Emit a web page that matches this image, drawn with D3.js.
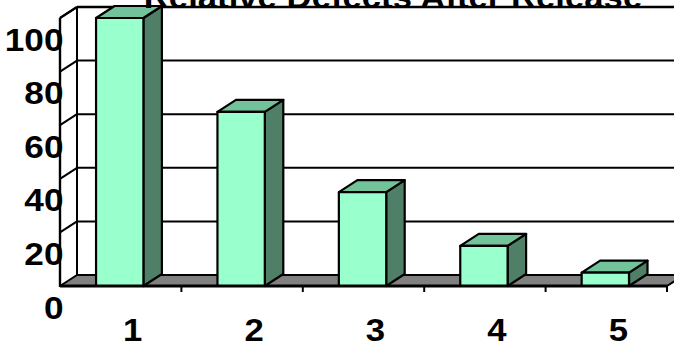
<!DOCTYPE html>
<html><head><meta charset="utf-8">
<script src="https://cdn.jsdelivr.net/npm/d3@7"></script>
<style>html,body{margin:0;padding:0;background:#fff;overflow:hidden}</style>
</head><body>
<svg id="chart" width="674" height="348"></svg>
<script>
const chartTitle = "Relative Defects After Release";
const categories = ["1", "2", "3", "4", "5"];
const values = [100, 65, 35, 15, 5];
const yTicks = [0, 20, 40, 60, 80, 100];

const svg = d3.select("#chart");
const font = "'Liberation Sans', Arial, Helvetica, sans-serif";
const dx = 17, dy = -11;      // wall / floor depth
const bdx = 18.5, bdy = -12;  // bar depth
const x = d3.scaleBand().domain(categories).range([60, 667]).padding(0);
const y = d3.scaleLinear().domain([0, 100]).range([286, 18]);
const bw = x.bandwidth();
const x0 = x.range()[0], x1 = x.range()[1];
const yTop = y(100), yBot = y(0);
const line = d3.line();

const colFront = "#99FFCC", colTop = "#72C29A", colSide = "#4F7F67", colFloor = "#808080";

// back wall
svg.append("rect").attr("x", x0 + dx).attr("y", yTop + dy)
  .attr("width", x1 - x0 + 40).attr("height", yBot - yTop).attr("fill", "#fff");
// side wall
svg.append("path").attr("d", line([[x0, yTop], [x0 + dx, yTop + dy], [x0 + dx, yBot + dy], [x0, yBot]]) + "Z")
  .attr("fill", "#fff");

// gridlines on back wall and side wall
yTicks.filter(v => v > 0).forEach(v => {
  const yy = y(v);
  svg.append("line").attr("x1", x0 + dx).attr("x2", x1 + dx + 20)
    .attr("y1", yy + dy).attr("y2", yy + dy)
    .attr("stroke", "#000").attr("stroke-width", v === 100 ? 2.6 : 2);
  svg.append("path").attr("d", line([[x0, yy], [x0 + dx, yy + dy]]))
    .attr("stroke", "#000").attr("stroke-width", 2).attr("fill", "none");
});
// back-left edge of wall
svg.append("line").attr("x1", x0 + dx).attr("x2", x0 + dx).attr("y1", yTop + dy).attr("y2", yBot + dy)
  .attr("stroke", "#000").attr("stroke-width", 2);

// floor
svg.append("path").attr("d", line([[x0, yBot], [x1, yBot], [x1 + dx, yBot + dy], [x0 + dx, yBot + dy]]) + "Z")
  .attr("fill", colFloor).attr("stroke", "#000").attr("stroke-width", 2).attr("stroke-linejoin", "round");

// bars
categories.forEach((c, i) => {
  const v = values[i];
  const bx = x(c) + bw * 0.297, w = bw * 0.39;
  const yt = y(v);
  const g = svg.append("g").attr("stroke", "#000").attr("stroke-width", 2.2).attr("stroke-linejoin", "round");
  g.append("path").attr("d", line([[bx + w, yt], [bx + w + bdx, yt + bdy], [bx + w + bdx, yBot + bdy], [bx + w, yBot]]) + "Z")
    .attr("fill", colSide);
  g.append("path").attr("d", line([[bx, yt], [bx + w, yt], [bx + w + bdx, yt + bdy], [bx + bdx, yt + bdy]]) + "Z")
    .attr("fill", colTop);
  g.append("rect").attr("x", bx).attr("y", yt).attr("width", w).attr("height", yBot - yt)
    .attr("fill", colFront);
});

// floor front edge
svg.append("line").attr("x1", x0).attr("x2", x1).attr("y1", yBot).attr("y2", yBot)
  .attr("stroke", "#000").attr("stroke-width", 2.8);
// left wall top edge
svg.append("path").attr("d", line([[x0, yTop], [x0 + dx, yTop + dy]])).attr("stroke", "#000").attr("stroke-width", 2.2);

// category ticks
categories.forEach(c => {
  const tx = x(c) + bw;
  svg.append("line").attr("x1", tx).attr("x2", tx).attr("y1", yBot).attr("y2", yBot + 6)
    .attr("stroke", "#000").attr("stroke-width", 2);
});

// y tick labels
yTicks.forEach(v => {
  svg.append("text").attr("transform", `translate(63.5,${y(v) + 32.5}) scale(1.1,1)`)
    .attr("text-anchor", "end").attr("font-family", font).attr("font-weight", "bold")
    .attr("font-size", 32).attr("fill", "#000").text(v);
});
// value axis line drawn over labels
svg.append("line").attr("x1", x0).attr("x2", x0).attr("y1", yTop).attr("y2", yBot + 1)
  .attr("stroke", "#000").attr("stroke-width", 2.4);

// category labels
categories.forEach(c => {
  svg.append("text").attr("transform", `translate(${x(c) + bw / 2 + 12},341) scale(1.12,1)`)
    .attr("text-anchor", "middle").attr("font-family", font).attr("font-weight", "bold")
    .attr("font-size", 31).attr("fill", "#000").text(c);
});

// title (cut by the top edge, as in the reference)
svg.append("text").attr("transform", `translate(393,7.5) scale(1.12,1)`)
  .attr("text-anchor", "middle").attr("font-family", font).attr("font-weight", "bold")
  .attr("font-size", 31).attr("fill", "#000").text(chartTitle);
</script>
</body></html>
